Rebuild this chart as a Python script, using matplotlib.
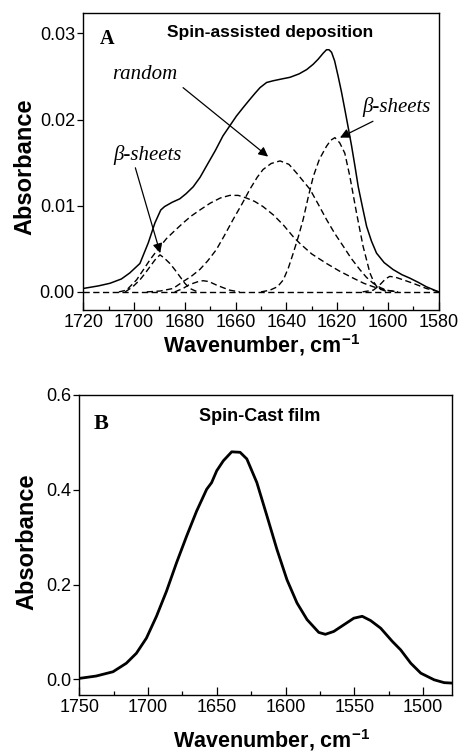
import numpy as np
import matplotlib
matplotlib.use('Agg')
import matplotlib.pyplot as plt

plt.rcParams['font.family'] = ['Liberation Sans', 'DejaVu Sans']
plt.rcParams['mathtext.fontset'] = 'custom'
plt.rcParams['mathtext.rm'] = 'Liberation Sans'

# panel A: spin-assisted deposition, measured spectrum
wn_a = [1720, 1714, 1709.5, 1705, 1701.7, 1697.7, 1694.4, 1691.8, 1689.5, 1688,
        1685, 1682, 1679.5, 1676.7, 1674, 1671.5, 1668, 1665, 1662, 1659.7,
        1657, 1654.5, 1652.5, 1650.4, 1647.8, 1645.2, 1642, 1638.6, 1635, 1632,
        1629.5, 1627.5, 1625.5, 1624.2, 1623.2, 1622.2, 1621, 1619.6, 1618.3, 1617,
        1615.6, 1614.3, 1613, 1611.7, 1610, 1608.4, 1606.5, 1604.5, 1601.5, 1598,
        1594.5, 1591.4, 1588, 1584.9, 1580]
abs_a = [0.0004, 0.0007, 0.0010, 0.0015, 0.0022, 0.0033, 0.0057, 0.0080, 0.0095, 0.0099,
         0.0104, 0.0108, 0.0114, 0.0122, 0.0133, 0.0146, 0.0164, 0.0181, 0.0194, 0.0204,
         0.0214, 0.0223, 0.0230, 0.0237, 0.0243, 0.0245, 0.0247, 0.0249, 0.0253, 0.0258,
         0.0264, 0.0270, 0.0277, 0.0281, 0.0281, 0.0278, 0.0268, 0.0250, 0.0232, 0.0212,
         0.0190, 0.0169, 0.0146, 0.0122, 0.0098, 0.0076, 0.0059, 0.0045, 0.0034, 0.0026,
         0.0020, 0.0016, 0.0011, 0.0006, 0.0000]

# fitted components (dashed)
wn_beta1 = [1703.5, 1700.5, 1697.7, 1695.8, 1693.8, 1691.8, 1689.8, 1688, 1685.9, 1684,
            1682, 1680, 1678, 1675]
abs_beta1 = [0.0, 0.0006, 0.0014, 0.0021, 0.0029, 0.0037, 0.0043, 0.0039, 0.0033, 0.0026,
             0.0018, 0.0010, 0.0004, 0.0]

wn_broad = [1706, 1703, 1699, 1696.5, 1693.8, 1690.5, 1687.2, 1684, 1680.7, 1677.5,
            1674.1, 1670, 1666, 1662.3, 1659, 1655.8, 1652.5, 1649.2, 1645, 1641,
            1637.3, 1634.6, 1630, 1624.2, 1619, 1613.7, 1609.5, 1605.8, 1601, 1596]
abs_broad = [0.0, 0.0002, 0.0014, 0.0025, 0.0037, 0.0050, 0.0062, 0.0071, 0.0080, 0.0088,
             0.0095, 0.0103, 0.0109, 0.0112, 0.0112, 0.0109, 0.0105, 0.0099, 0.0089, 0.0077,
             0.0064, 0.0056, 0.0044, 0.0033, 0.0024, 0.0016, 0.0010, 0.0006, 0.0002, 0.0]

wn_random = [1695, 1689.8, 1684.6, 1680.7, 1677.5, 1674.1, 1671, 1667.6, 1664.5, 1661,
             1657.5, 1654.4, 1651.5, 1649.2, 1646, 1642.5, 1639, 1636, 1633.5, 1630.7,
             1627.5, 1624.2, 1621, 1617.6, 1614.5, 1611.1, 1608.5, 1605.8, 1603, 1600.6, 1596]
abs_random = [0.0, 0.0001, 0.0004, 0.0012, 0.0018, 0.0026, 0.0036, 0.0049, 0.0065, 0.0084,
              0.0102, 0.0119, 0.0133, 0.0142, 0.0149, 0.0152, 0.0148, 0.0138, 0.0129, 0.0119,
              0.0102, 0.0084, 0.0068, 0.0053, 0.0039, 0.0026, 0.0017, 0.0010, 0.0005, 0.0002, 0.0]

wn_beta2 = [1650, 1646.5, 1643.5, 1641.2, 1639.2, 1637.3, 1635.3, 1633.4, 1631.4, 1629.4,
            1627, 1624.2, 1622.5, 1620.9, 1619, 1617, 1615, 1612.4, 1609.8, 1607.1,
            1605.5, 1603.9, 1600]
abs_beta2 = [0.0, 0.0002, 0.0006, 0.0014, 0.0028, 0.0045, 0.0064, 0.0084, 0.0110, 0.0134,
             0.0154, 0.0169, 0.0176, 0.0179, 0.0173, 0.0161, 0.0134, 0.0092, 0.0053, 0.0022,
             0.0011, 0.0004, 0.0]

wn_small1 = [1684, 1680.7, 1678.5, 1676.7, 1674.7, 1672.8, 1670.5, 1667.6, 1665, 1662.3, 1658.4]
abs_small1 = [0.0, 0.0004, 0.0008, 0.0010, 0.0012, 0.0013, 0.0012, 0.0008, 0.0005, 0.0002, 0.0]

wn_small2 = [1610, 1605.8, 1604, 1602.6, 1601, 1599.3, 1597, 1594, 1590.1, 1587.5,
             1584.9, 1581, 1580]
abs_small2 = [0.0, 0.0002, 0.0006, 0.0010, 0.0015, 0.0018, 0.0017, 0.0014, 0.0010, 0.0007,
              0.0004, 0.0001, 0.0]

wn_base = [1720, 1580]
abs_base = [0.0, 0.0]

# panel B: spin-cast film
wn_b = [1750, 1737.7, 1725.5, 1715.8, 1708.5, 1701.2, 1693.9, 1686.6, 1679.3, 1672,
        1664.7, 1657.4, 1653.8, 1650.1, 1645.3, 1639.2, 1633.1, 1628.2, 1620.9, 1613.6,
        1606.3, 1599, 1591.7, 1584.4, 1575.9, 1571.1, 1565, 1557.7, 1550.4, 1544.3,
        1538.2, 1530.9, 1522.4, 1516.3, 1509, 1501.7, 1492, 1484.7, 1478.6]
abs_b = [0.002, 0.007, 0.016, 0.034, 0.055, 0.087, 0.133, 0.186, 0.246, 0.302,
         0.355, 0.401, 0.415, 0.440, 0.461, 0.480, 0.479, 0.465, 0.415, 0.345,
         0.274, 0.210, 0.161, 0.126, 0.099, 0.095, 0.101, 0.115, 0.129, 0.133,
         0.124, 0.108, 0.080, 0.062, 0.034, 0.013, -0.001, -0.007, -0.008]

fig = plt.figure(figsize=(4.59, 7.55), dpi=100)
ax1 = fig.add_axes([0.1815, 0.5894, 0.7743, 0.3938])
ax2 = fig.add_axes([0.1728, 0.0795, 0.8120, 0.3974])

dash = (4.5, 2.5)
ax1.plot(wn_a, abs_a, color='k', lw=1.1)
for xs, ys in [(wn_beta1, abs_beta1), (wn_broad, abs_broad), (wn_random, abs_random),
               (wn_beta2, abs_beta2), (wn_small1, abs_small1), (wn_small2, abs_small2),
               (wn_base, abs_base)]:
    ax1.plot(xs, ys, color='k', lw=1.0, ls=(0, dash))

ax1.set_xlim(1720, 1580)
ax1.set_ylim(-0.0021, 0.0324)
ax1.set_xticks(np.arange(1720, 1579, -20))
ax1.set_xticks(np.arange(1710, 1580, -20), minor=True)
ax1.set_yticks([0.0, 0.01, 0.02, 0.03])
ax1.set_yticklabels(['0.00', '0.01', '0.02', '0.03'])

ax2.plot(wn_b, abs_b, color='k', lw=2.0)
ax2.set_xlim(1750, 1479)
ax2.set_ylim(-0.033, 0.6)
ax2.set_xticks([1750, 1700, 1650, 1600, 1550, 1500])
ax2.set_xticks([1725, 1675, 1625, 1575, 1525], minor=True)
ax2.set_yticks([0.0, 0.2, 0.4, 0.6])

for ax in (ax1, ax2):
    ax.tick_params(axis='x', which='major', direction='in', length=6, width=0.9,
                   labelsize=13, pad=3)
    ax.tick_params(axis='x', which='minor', direction='in', length=3, width=0.9)
    ax.tick_params(axis='y', which='major', direction='out', length=4, width=0.9,
                   labelsize=13, pad=2)
    for s in ax.spines.values():
        s.set_linewidth(1.0)

xlab = r'Wavenumber, cm$^{\mathregular{-1}}$'
ax1.set_xlabel(xlab, fontsize=15.5, fontweight='bold', va='baseline')
ax1.set_ylabel('Absorbance', fontsize=17, fontweight='bold', va='center')
ax1.xaxis.set_label_coords(0.502, -0.143)
ax1.yaxis.set_label_coords(-0.164, 0.481)

ax2.set_xlabel(xlab, fontsize=15.5, fontweight='bold', va='baseline')
ax2.set_ylabel('Absorbance', fontsize=17, fontweight='bold', va='center')
ax2.xaxis.set_label_coords(0.516, -0.176)
ax2.yaxis.set_label_coords(-0.140, 0.51)

serif = ['Liberation Serif', 'DejaVu Serif']
ax1.text(1710.6, 0.0293, 'A', family=serif, fontsize=14.5, fontweight='bold',
         ha='center', va='center')
ax1.text(1646.5, 0.0301, 'Spin-assisted deposition', fontsize=12.5, fontweight='bold',
         ha='center', va='center')
ax2.text(1734.5, 0.539, 'B', family=serif, fontsize=16, fontweight='bold',
         ha='center', va='center')
ax2.text(1619, 0.554, 'Spin-Cast film', fontsize=13, fontweight='bold',
         ha='center', va='center')

arrow = dict(arrowstyle='-|>', color='k', lw=0.9, mutation_scale=14, shrinkA=0, shrinkB=0)
ax1.text(1695.6, 0.0252, 'random', family=serif, style='italic', fontsize=15,
         ha='center', va='center')
ax1.annotate('', xy=(1647.2, 0.0157), xytext=(1680.7, 0.0237), arrowprops=arrow)
ax1.text(1694.8, 0.0159, 'β-sheets', family=serif, style='italic', fontsize=15,
         ha='center', va='center')
ax1.annotate('', xy=(1689.7, 0.0045), xytext=(1699.5, 0.0144), arrowprops=arrow)
ax1.text(1596.5, 0.0215, 'β-sheets', family=serif, style='italic', fontsize=15,
         ha='center', va='center')
ax1.annotate('', xy=(1618.9, 0.0179), xytext=(1605.9, 0.0198), arrowprops=arrow)

fig.savefig('out.png', dpi=100)
